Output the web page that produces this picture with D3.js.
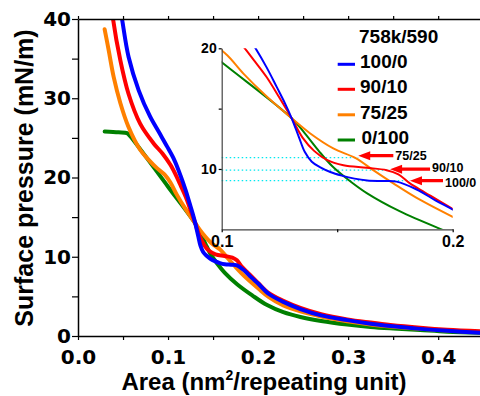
<!DOCTYPE html>
<html>
<head>
<meta charset="utf-8">
<script src="https://cdn.jsdelivr.net/npm/d3@7"></script>
<style>
  body { margin: 0; background: #fff; }
  svg { display: block; font-family: "Liberation Sans", Arial, sans-serif; font-weight: bold; }
</style>
</head>
<body>
<svg width="480" height="396"></svg>
<script>
// data: [area nm2/unit, surface pressure mN/m]
var blue100 = [[0.046,42],[0.0489,40],[0.0562,35.2],[0.0674,31.0],[0.080,27.7],[0.090,25.7],[0.099,23.9],[0.107,22.2],[0.114,20.2],[0.1195,18.4],[0.1238,16.8],[0.1275,15.4],[0.1303,14.2],[0.1335,12.6],[0.136,11.4],[0.139,10.6],[0.1425,10.15],[0.147,9.75],[0.152,9.45],[0.1575,9.2],[0.163,9.05],[0.17,9.0],[0.1757,8.95],[0.1844,8.3],[0.1925,7.4],[0.2003,6.6],[0.212,5.3],[0.228,4.3],[0.247,3.4],[0.27,2.6],[0.299,2.0],[0.325,1.55],[0.347,1.26],[0.38,0.9],[0.41,0.65],[0.447,0.42]];
var red90 = [[0.037,42],[0.0389,40],[0.047,34.8],[0.056,30.6],[0.069,26.8],[0.084,24.3],[0.094,23.0],[0.1026,21.6],[0.1087,20.3],[0.114,19.0],[0.1195,17.6],[0.125,15.9],[0.1303,14.2],[0.135,12.6],[0.140,11.5],[0.1455,10.75],[0.1527,10.3],[0.1628,10.1],[0.1714,9.9],[0.1765,9.55],[0.1815,8.8],[0.188,8.05],[0.2003,6.65],[0.212,5.4],[0.228,4.45],[0.247,3.55],[0.27,2.75],[0.299,2.1],[0.325,1.7],[0.347,1.4],[0.38,1.05],[0.41,0.8],[0.447,0.6]];
var orange75 = [[0.0296,38.7],[0.034,36.1],[0.0396,32.7],[0.047,29.4],[0.056,26.4],[0.069,23.5],[0.078,22.3],[0.088,21.15],[0.096,20.4],[0.1025,19.4],[0.1094,17.9],[0.1195,16.0],[0.1303,14.2],[0.1382,12.96],[0.1483,11.7],[0.158,10.9],[0.1656,9.9],[0.1743,8.8],[0.1844,7.6],[0.2003,6.0],[0.212,4.9],[0.228,3.85],[0.247,3.1],[0.27,2.45],[0.299,1.85],[0.325,1.45],[0.347,1.2],[0.38,0.9],[0.41,0.7],[0.447,0.5]];
var green0 = [[0.0296,25.8],[0.045,25.7],[0.0545,25.6],[0.058,25.2],[0.1,18.84],[0.1303,14.2],[0.136,12.95],[0.142,11.5],[0.148,10.2],[0.1545,9.15],[0.1628,8.0],[0.177,6.5],[0.1938,5.1],[0.21,3.9],[0.228,3.0],[0.247,2.4],[0.27,1.9],[0.299,1.45],[0.325,1.15],[0.35,0.95],[0.38,0.75],[0.41,0.55],[0.447,0.4]];

var seriesNames = ["100/0", "90/10", "75/25", "0/100"];
var seriesData = [blue100, red90, orange75, green0];
var seriesColors = ["#0000ff", "#ff0000", "#ff8000", "#008000"];
var legendTitle = "758k/590";

var xTicks = [0, 0.1, 0.2, 0.3, 0.4];
var xMinor = [0.05, 0.15, 0.25, 0.35, 0.45];
var yTicks = [0, 10, 20, 30, 40];
var yMinor = [5, 15, 25, 35];

var insetXTicks = [0.1, 0.2];
var insetYTicks = [10, 20];

// plateau marks in the inset, same order as the labels
var plateauLabels = ["75/25", "90/10", "100/0"];
var plateauP = [10.94, 9.9, 9.03];
var arrowP = [11.1, 9.98, 9.03];
var arrowTip = [0.1591, 0.1729, 0.1815];
var arrowTail = [0.1743, 0.1902, 0.1958];

var svg = d3.select("svg");

// main scales
var x = d3.scaleLinear().domain([0, 0.447]).range([78, 480.5]);
var y = d3.scaleLinear().domain([0, 40]).range([336, 19]);

// inset scales
var ix = d3.scaleLinear().domain([0.1, 0.2]).range([221.7, 452.7]);
var iy = d3.scaleLinear().domain([5, 20]).range([229.3, 48.3]);

var defs = svg.append("defs");
defs.append("clipPath").attr("id", "mainclip").append("rect")
  .attr("x", 78).attr("y", 19).attr("width", 410).attr("height", 320);
defs.append("clipPath").attr("id", "insetclip").append("rect")
  .attr("x", ix(0.1)).attr("y", iy(20)).attr("width", ix(0.2) - ix(0.1)).attr("height", iy(5) - iy(20));

// main curves (green first so blue lands on top)
var line = d3.line().x(d => x(d[0])).y(d => y(d[1])).curve(d3.curveCatmullRom.alpha(0.5));
var mainG = svg.append("g").attr("clip-path", "url(#mainclip)");
[3, 2, 1, 0].forEach(function(i) {
  mainG.append("path")
    .attr("d", line(seriesData[i]))
    .attr("fill", "none")
    .attr("stroke", seriesColors[i])
    .attr("stroke-width", 4)
    .attr("stroke-linejoin", "round")
    .attr("stroke-linecap", "round");
});

// main axes
function styleAxis(g, size, family) {
  g.select(".domain").attr("stroke", "#000").attr("stroke-width", 1.5);
  g.selectAll(".tick line").attr("stroke", "#000").attr("stroke-width", 1.2);
  g.selectAll("text").attr("fill", "#000").attr("font-size", size).attr("font-weight", "bold")
    .attr("font-family", family || null);
}

var tickFont = "'DejaVu Sans', sans-serif";

var xAxisG = svg.append("g").attr("transform", "translate(0,336)")
  .call(d3.axisBottom(x).tickValues(xTicks).tickSize(4).tickSizeOuter(0).tickPadding(9.5).tickFormat(d3.format(".1f")));
styleAxis(xAxisG, 20, tickFont);
var xMinorG = svg.append("g").attr("transform", "translate(0,336)")
  .call(d3.axisBottom(x).tickValues(xMinor).tickSize(4).tickFormat(""));
styleAxis(xMinorG, 0);
xMinorG.select(".domain").remove();

// top frame line with small outward ticks
var topG = svg.append("g").attr("transform", "translate(0,19)")
  .call(d3.axisTop(x).tickValues(xTicks.concat(xMinor)).tickSize(3).tickSizeOuter(0).tickFormat(""));
styleAxis(topG, 0);

var yAxisG = svg.append("g").attr("transform", "translate(78,0)")
  .call(d3.axisLeft(y).tickValues(yTicks).tickSize(6).tickSizeOuter(0).tickPadding(1));
styleAxis(yAxisG, 20, tickFont);
var yMinorG = svg.append("g").attr("transform", "translate(78,0)")
  .call(d3.axisLeft(y).tickValues(yMinor).tickSize(6).tickFormat(""));
styleAxis(yMinorG, 0);
yMinorG.select(".domain").remove();

// axis titles
svg.append("text")
  .attr("transform", "translate(33,178) rotate(-90)")
  .attr("text-anchor", "middle")
  .attr("font-size", 25)
  .text("Surface pressure (mN/m)");

var xt = svg.append("text")
  .attr("x", 264).attr("y", 390)
  .attr("text-anchor", "middle")
  .attr("font-size", 24);
xt.append("tspan").text("Area (nm");
xt.append("tspan").attr("font-size", 14).attr("dy", -10).text("2");
xt.append("tspan").attr("dy", 10).text("/repeating unit)");

// inset
var insetG = svg.append("g");
var iline = d3.line().x(d => ix(d[0])).y(d => iy(d[1])).curve(d3.curveCatmullRom.alpha(0.5));

// cyan dotted plateau guides
plateauP.forEach(function(p, i) {
  insetG.append("line")
    .attr("x1", ix(0.1)).attr("x2", ix(arrowTip[i]))
    .attr("y1", iy(p)).attr("y2", iy(p))
    .attr("stroke", "#00e8f0")
    .attr("stroke-width", 1.2)
    .attr("stroke-dasharray", "1.5,2.5");
});

var insetCurves = insetG.append("g").attr("clip-path", "url(#insetclip)");
[3, 2, 1, 0].forEach(function(i) {
  insetCurves.append("path")
    .attr("d", iline(seriesData[i]))
    .attr("fill", "none")
    .attr("stroke", seriesColors[i])
    .attr("stroke-width", 2);
});

var ixAxisG = insetG.append("g").attr("transform", "translate(0," + iy(5) + ")")
  .call(d3.axisBottom(ix).tickValues([0.1, 0.15, 0.2]).tickSize(3).tickSizeOuter(0).tickPadding(3)
    .tickFormat(d => insetXTicks.includes(d) ? d3.format(".1f")(d) : ""));
styleAxis(ixAxisG, 16);
ixAxisG.select(".domain").attr("stroke", "#444").attr("stroke-width", 1.2);

var iyAxisG = insetG.append("g").attr("transform", "translate(" + ix(0.1) + ",0)")
  .call(d3.axisLeft(iy).tickValues([10, 15, 20]).tickSize(3).tickSizeOuter(0).tickPadding(2)
    .tickFormat(d => insetYTicks.includes(d) ? d : ""));
styleAxis(iyAxisG, 14);
iyAxisG.select(".domain").attr("stroke", "#444").attr("stroke-width", 1.2);

// red arrows pointing at the plateaus
var labelDy = [4.5, 3, 6];
plateauLabels.forEach(function(lab, i) {
  var tx = ix(arrowTip[i]), ex = ix(arrowTail[i]), cy = iy(arrowP[i]);
  var head = 12, hw = 4.5, sw = 1.6;
  insetG.append("path")
    .attr("d", "M" + tx + "," + cy +
      "L" + (tx + head) + "," + (cy - hw) +
      "L" + (tx + head) + "," + (cy - sw) +
      "L" + ex + "," + (cy - sw) +
      "L" + ex + "," + (cy + sw) +
      "L" + (tx + head) + "," + (cy + sw) +
      "L" + (tx + head) + "," + (cy + hw) + "Z")
    .attr("fill", "#ff0000");
  insetG.append("text")
    .attr("x", ex + 2).attr("y", cy + labelDy[i])
    .attr("font-size", 12.5)
    .text(lab);
});

// legend
var leg = svg.append("g");
leg.append("text").attr("x", 359).attr("y", 43).attr("font-size", 19).text(legendTitle);
var legY = [64.3, 89.3, 114.8, 140];
seriesNames.forEach(function(name, i) {
  leg.append("line")
    .attr("x1", 337.7).attr("x2", 355)
    .attr("y1", legY[i]).attr("y2", legY[i])
    .attr("stroke", seriesColors[i]).attr("stroke-width", 3);
  leg.append("text")
    .attr("x", i === 3 ? 361.5 : 360).attr("y", legY[i] + 4)
    .attr("font-size", 19)
    .text(name);
});
</script>
</body>
</html>
